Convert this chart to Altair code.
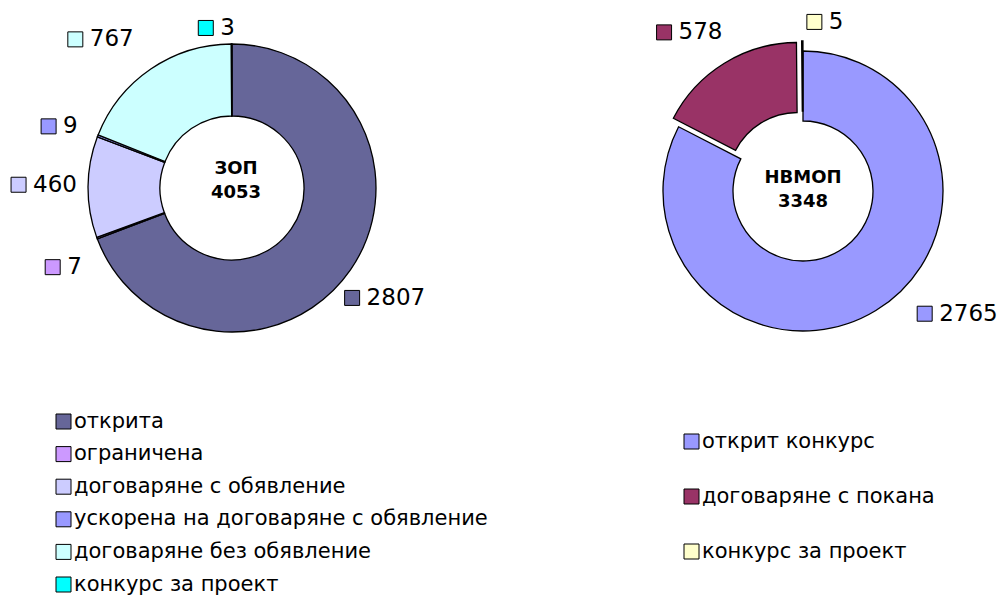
import altair as alt
import pandas as pd

# ---------------- data ----------------
LEFT_NAME = "ЗОП"
LEFT_CATS = ["открита", "ограничена", "договаряне с обявление",
             "ускорена на договаряне с обявление", "договаряне без обявление",
             "конкурс за проект"]
LEFT_VALUES = [2807, 7, 460, 9, 767, 3]

RIGHT_NAME = "НВМОП"
RIGHT_CATS = ["открит конкурс", "договаряне с покана", "конкурс за проект"]
RIGHT_VALUES = [2765, 578, 5]

# ---------------- styles ----------------
LEFT_COLORS = ["#666699", "#CC99FF", "#CCCCFF", "#9999FF", "#CCFFFF", "#00FFFF"]
RIGHT_COLORS = ["#9999FF", "#993366", "#FFFFCC"]
LEFT_EXPLODE = [0, 0, 0, 0, 0, 0]
RIGHT_EXPLODE = [0, 10, 10]
# manual label adjustments (px), like hand-moved data labels
LEFT_LABEL_NUDGE = [(-9, -2), (-1, 17), (3, -2), (-6, 3), (-27, 4), (-15, 8)]
RIGHT_LABEL_NUDGE = [(59, -34), (-14, 3), (23, 5)]

FONT = "DejaVu Sans"
LABEL_FS = 23
DIGIT_W = 0.636 * LABEL_FS
SQ = 15
TEXT_START = 22       # from box left edge to number text
LABEL_H = 20
LEGEND_FS = 21


def make_df(cats, values, explode, nudge):
    return pd.DataFrame({
        "cat": cats,
        "value": values,
        "idx": list(range(len(cats))),
        "explode": explode,
        "ndx": [n[0] for n in nudge],
        "ndy": [n[1] for n in nudge],
    })


def donut(df, name, cats, colors, cx, cy, r_out, r_in, legend_x, legend_y,
          row_pad, center_dx, center_dy):
    R = r_out + 14
    base = (
        alt.Chart(df)
        .transform_window(cum="sum(value)", sort=[{"field": "idx", "order": "ascending"}],
                          frame=[None, 0])
        .transform_joinaggregate(total="sum(value)")
        .transform_calculate(start="(datum.cum - datum.value) / datum.total * 2 * PI")
        .transform_calculate(end="datum.cum / datum.total * 2 * PI")
        .transform_calculate(mid="(datum.start + datum.end) / 2")
        .transform_calculate(ex=f"{cx} + datum.explode * sin(datum.mid)")
        .transform_calculate(ey=f"{cy} - datum.explode * cos(datum.mid)")
        .transform_calculate(n="length(toString(datum.value))")
        .transform_calculate(w=f"{TEXT_START} + datum.n * {DIGIT_W}")
        .transform_calculate(
            D=f"{R} + datum.explode + datum.w / 2 * abs(sin(datum.mid)) + {LABEL_H} / 2 * abs(cos(datum.mid))")
        .transform_calculate(bx=f"{cx} + datum.D * sin(datum.mid) + datum.ndx")
        .transform_calculate(by=f"{cy} - datum.D * cos(datum.mid) + datum.ndy")
        .transform_calculate(sqx=f"datum.bx - datum.w / 2 + {SQ / 2}")
        .transform_calculate(txx=f"datum.bx - datum.w / 2 + {TEXT_START}")
    )
    color_scale = alt.Scale(domain=cats, range=colors)
    legend = alt.Legend(
        orient="none", legendX=legend_x, legendY=legend_y, title=None,
        symbolType="square", symbolSize=SQ * SQ, symbolStrokeColor="black",
        symbolStrokeWidth=1, symbolOpacity=1, labelFontSize=LEGEND_FS, labelFont=FONT,
        labelColor="black", rowPadding=row_pad, labelOffset=0, padding=0,
        labelLimit=0,
    )
    arcs = base.mark_arc(outerRadius=r_out, innerRadius=r_in, stroke="black",
                         strokeWidth=1.3).encode(
        theta=alt.Theta("start:Q", scale=None, stack=None),
        theta2="end:Q",
        x=alt.X("ex:Q", scale=None, axis=None),
        y=alt.Y("ey:Q", scale=None, axis=None),
        color=alt.Color("cat:N", scale=color_scale, legend=legend),
        order=alt.Order("idx:Q"),
    )
    squares = base.mark_point(shape="square", filled=True, size=SQ * SQ, stroke="black",
                              strokeWidth=1, opacity=1).encode(
        x=alt.X("sqx:Q", scale=None, axis=None),
        y=alt.Y("by:Q", scale=None, axis=None),
        color=alt.Color("cat:N", scale=color_scale, legend=None),
    )
    nums = base.mark_text(align="left", baseline="middle", fontSize=LABEL_FS, font=FONT,
                          color="black").encode(
        x=alt.X("txx:Q", scale=None, axis=None),
        y=alt.Y("by:Q", scale=None, axis=None),
        text=alt.Text("value:Q", format="d"),
    )
    c_name = alt.Chart(df).transform_aggregate(total="sum(value)").mark_text(
        align="center", baseline="middle", fontSize=18, fontWeight="bold", font=FONT,
        color="black", dy=-12 + center_dy, dx=center_dx).encode(
        x=alt.value(cx), y=alt.value(cy), text=alt.value(name))
    c_total = alt.Chart(df).transform_aggregate(total="sum(value)").mark_text(
        align="center", baseline="middle", fontSize=18, fontWeight="bold", font=FONT,
        color="black", dy=12 + center_dy, dx=center_dx).encode(
        x=alt.value(cx), y=alt.value(cy), text=alt.Text("total:Q", format="d"))
    return alt.layer(arcs, squares, nums, c_name, c_total)


df_left = make_df(LEFT_CATS, LEFT_VALUES, LEFT_EXPLODE, LEFT_LABEL_NUDGE)
df_right = make_df(RIGHT_CATS, RIGHT_VALUES, RIGHT_EXPLODE, RIGHT_LABEL_NUDGE)

left = donut(df_left, LEFT_NAME, LEFT_CATS, LEFT_COLORS, cx=224, cy=180, r_out=144, r_in=72,
             legend_x=45, legend_y=403, row_pad=10.6, center_dx=4, center_dy=-7)
right = donut(df_right, RIGHT_NAME, RIGHT_CATS, RIGHT_COLORS, cx=795, cy=183, r_out=140,
              r_in=70, legend_x=673, legend_y=423, row_pad=33, center_dx=0, center_dy=-1)

chart = (
    alt.layer(left, right)
    .resolve_scale(color="independent")
    .properties(width=989, height=587, padding=0,
                autosize=alt.AutoSizeParams(type="none"), background="white")
    .configure_view(stroke=None)
)

chart.save("out.html", embed_options={"renderer": "svg", "actions": False})
